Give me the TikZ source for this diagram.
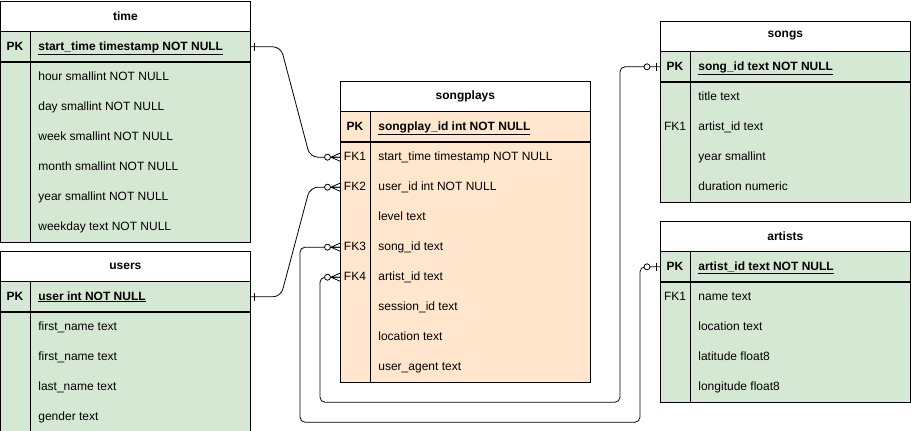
\documentclass[tikz,border=0pt]{standalone}
\usepackage{fontspec}
\setmainfont{Liberation Sans}
\usetikzlibrary{positioning,calc}
\definecolor{erdgreen}{HTML}{D5E8D4}
\definecolor{erdorange}{HTML}{FFE6CC}
% end marks of the relation lines
\newcommand{\zeromany}[1]{\draw (#1) ++(0,-4) -- ++(-9,4) -- ++(9,4) (#1) -- ++(-9,0);
  \draw[fill=white] (#1) ++(-12.5,0) circle (3pt);}
\newcommand{\zeroone}[1]{\draw (#1) ++(-4,-4) -- ++(0,8);
  \draw[fill=white] (#1) ++(-13,0) circle (3pt);}
\newcommand{\onebar}[1]{\draw (#1) ++(4,-4) -- ++(0,8);}
\tikzset{
  tblhead/.style={draw,fill=white,minimum width=250pt,minimum height=30pt,inner sep=0pt,
    font=\fontsize{12}{14}\selectfont\bfseries},
  tblrow/.style={draw,minimum width=250pt,minimum height=30pt,inner sep=0pt},
  keytxt/.style={inner sep=0pt,text height=9pt,text depth=2.5pt,font=\fontsize{12}{14}\selectfont},
  fldtxt/.style={keytxt,anchor=west},
  erline/.style={line width=0.8pt,rounded corners=5pt},
}
\begin{document}
\begin{tikzpicture}[x=1pt,y=-1pt,line width=0.8pt]
\useasboundingbox (0,-0.6) rectangle (911,430.4);
% time
\node[tblhead,anchor=north west] (time) at (0,0) {time};
\node[tblrow,fill=erdgreen,below=0pt of time] (time-pk) {};
\node[tblrow,fill=erdgreen,below=0pt of time-pk,minimum height=180pt] (time-body) {};
\draw ([xshift=30pt]time-pk.north west) -- ([xshift=30pt]time-body.south west);
\node[keytxt,font=\fontsize{12}{14}\selectfont\bfseries] at ([xshift=15pt]time-pk.west) {PK};
\node[fldtxt,font=\fontsize{12}{14}\selectfont\bfseries] at ([xshift=38pt]time-pk.west) {\underline{start\_time timestamp NOT NULL}};
\foreach \f [count=\i] in {hour smallint NOT NULL,day smallint NOT NULL,week smallint NOT NULL,
    month smallint NOT NULL,year smallint NOT NULL,weekday text NOT NULL}
  \node[fldtxt] (time-f\i) at ([xshift=38pt,yshift={15-30*\i}]time-body.north west) {\f};
% users
\node[tblhead,anchor=north west] (users) at (0,250) {users};
\node[tblrow,fill=erdgreen,below=0pt of users] (users-pk) {};
\node[tblrow,fill=erdgreen,below=0pt of users-pk,minimum height=120pt] (users-body) {};
\draw ([xshift=30pt]users-pk.north west) -- ([xshift=30pt]users-body.south west);
\node[keytxt,font=\fontsize{12}{14}\selectfont\bfseries] at ([xshift=15pt]users-pk.west) {PK};
\node[fldtxt,font=\fontsize{12}{14}\selectfont\bfseries] at ([xshift=38pt]users-pk.west) {\underline{user int NOT NULL}};
\foreach \f [count=\i] in {first\_name text,first\_name text,last\_name text,gender text}
  \node[fldtxt] (users-f\i) at ([xshift=38pt,yshift={15-30*\i}]users-body.north west) {\f};
% songplays
\node[tblhead,anchor=north west] (sp) at (340,80) {songplays};
\node[tblrow,fill=erdorange,below=0pt of sp] (sp-pk) {};
\node[tblrow,fill=erdorange,below=0pt of sp-pk,minimum height=240pt] (sp-body) {};
\draw ([xshift=30pt]sp-pk.north west) -- ([xshift=30pt]sp-body.south west);
\node[keytxt,font=\fontsize{12}{14}\selectfont\bfseries] at ([xshift=15pt]sp-pk.west) {PK};
\node[fldtxt,font=\fontsize{12}{14}\selectfont\bfseries] at ([xshift=38pt]sp-pk.west) {\underline{songplay\_id int NOT NULL}};
\foreach \f [count=\i] in {start\_time timestamp NOT NULL,user\_id int NOT NULL,level text,song\_id text,
    artist\_id text,session\_id text,location text,user\_agent text}
  \node[fldtxt] (sp-f\i) at ([xshift=38pt,yshift={15-30*\i}]sp-body.north west) {\f};
\foreach \k/\i in {FK1/1,FK2/2,FK3/4,FK4/5}
  \node[keytxt] at ([xshift=15pt]sp-f\i -| sp.west) {\k};
% songs
\node[tblhead,anchor=north west] (songs) at (660,20) {songs};
\node[tblrow,fill=erdgreen,below=0pt of songs] (songs-pk) {};
\node[tblrow,fill=erdgreen,below=0pt of songs-pk,minimum height=120pt] (songs-body) {};
\draw ([xshift=30pt]songs-pk.north west) -- ([xshift=30pt]songs-body.south west);
\node[keytxt,font=\fontsize{12}{14}\selectfont\bfseries] at ([xshift=15pt]songs-pk.west) {PK};
\node[fldtxt,font=\fontsize{12}{14}\selectfont\bfseries] at ([xshift=38pt]songs-pk.west) {\underline{song\_id text NOT NULL}};
\foreach \f [count=\i] in {title text,artist\_id text,year smallint,duration numeric}
  \node[fldtxt] (songs-f\i) at ([xshift=38pt,yshift={15-30*\i}]songs-body.north west) {\f};
\node[keytxt] at ([xshift=15pt]songs-f2 -| songs.west) {FK1};
% artists
\node[tblhead,anchor=north west] (artists) at (660,220) {artists};
\node[tblrow,fill=erdgreen,below=0pt of artists] (artists-pk) {};
\node[tblrow,fill=erdgreen,below=0pt of artists-pk,minimum height=120pt] (artists-body) {};
\draw ([xshift=30pt]artists-pk.north west) -- ([xshift=30pt]artists-body.south west);
\node[keytxt,font=\fontsize{12}{14}\selectfont\bfseries] at ([xshift=15pt]artists-pk.west) {PK};
\node[fldtxt,font=\fontsize{12}{14}\selectfont\bfseries] at ([xshift=38pt]artists-pk.west) {\underline{artist\_id text NOT NULL}};
\foreach \f [count=\i] in {name text,location text,latitude float8,longitude float8}
  \node[fldtxt] (artists-f\i) at ([xshift=38pt,yshift={15-30*\i}]artists-body.north west) {\f};
\node[keytxt] at ([xshift=15pt]artists-f1 -| artists.west) {FK1};
% relations
\draw[erline,rounded corners=8pt] (time-pk.east) -- ++(30,0) -- ($(sp-f1 -| sp.west)+(-30,0)$) -- (sp-f1 -| sp.west);
\draw[erline,rounded corners=8pt] (users-pk.east) -- ++(30,0) -- ($(sp-f2 -| sp.west)+(-30,0)$) -- (sp-f2 -| sp.west);
\draw[erline] (sp-f4 -| sp.west) -- ++(-40,0) -- ++(0,175) -| ($(artists-pk.west)+(-20,0)$) -- (artists-pk.west);
\draw[erline] (sp-f5 -| sp.west) -- ++(-20,0) -- ++(0,125) -| ($(songs-pk.west)+(-40,0)$) -- (songs-pk.west);
\onebar{time-pk.east}
\onebar{users-pk.east}
\zeromany{sp-f1 -| sp.west}
\zeromany{sp-f2 -| sp.west}
\zeromany{sp-f4 -| sp.west}
\zeromany{sp-f5 -| sp.west}
\zeroone{songs-pk.west}
\zeroone{artists-pk.west}
\end{tikzpicture}
\end{document}
